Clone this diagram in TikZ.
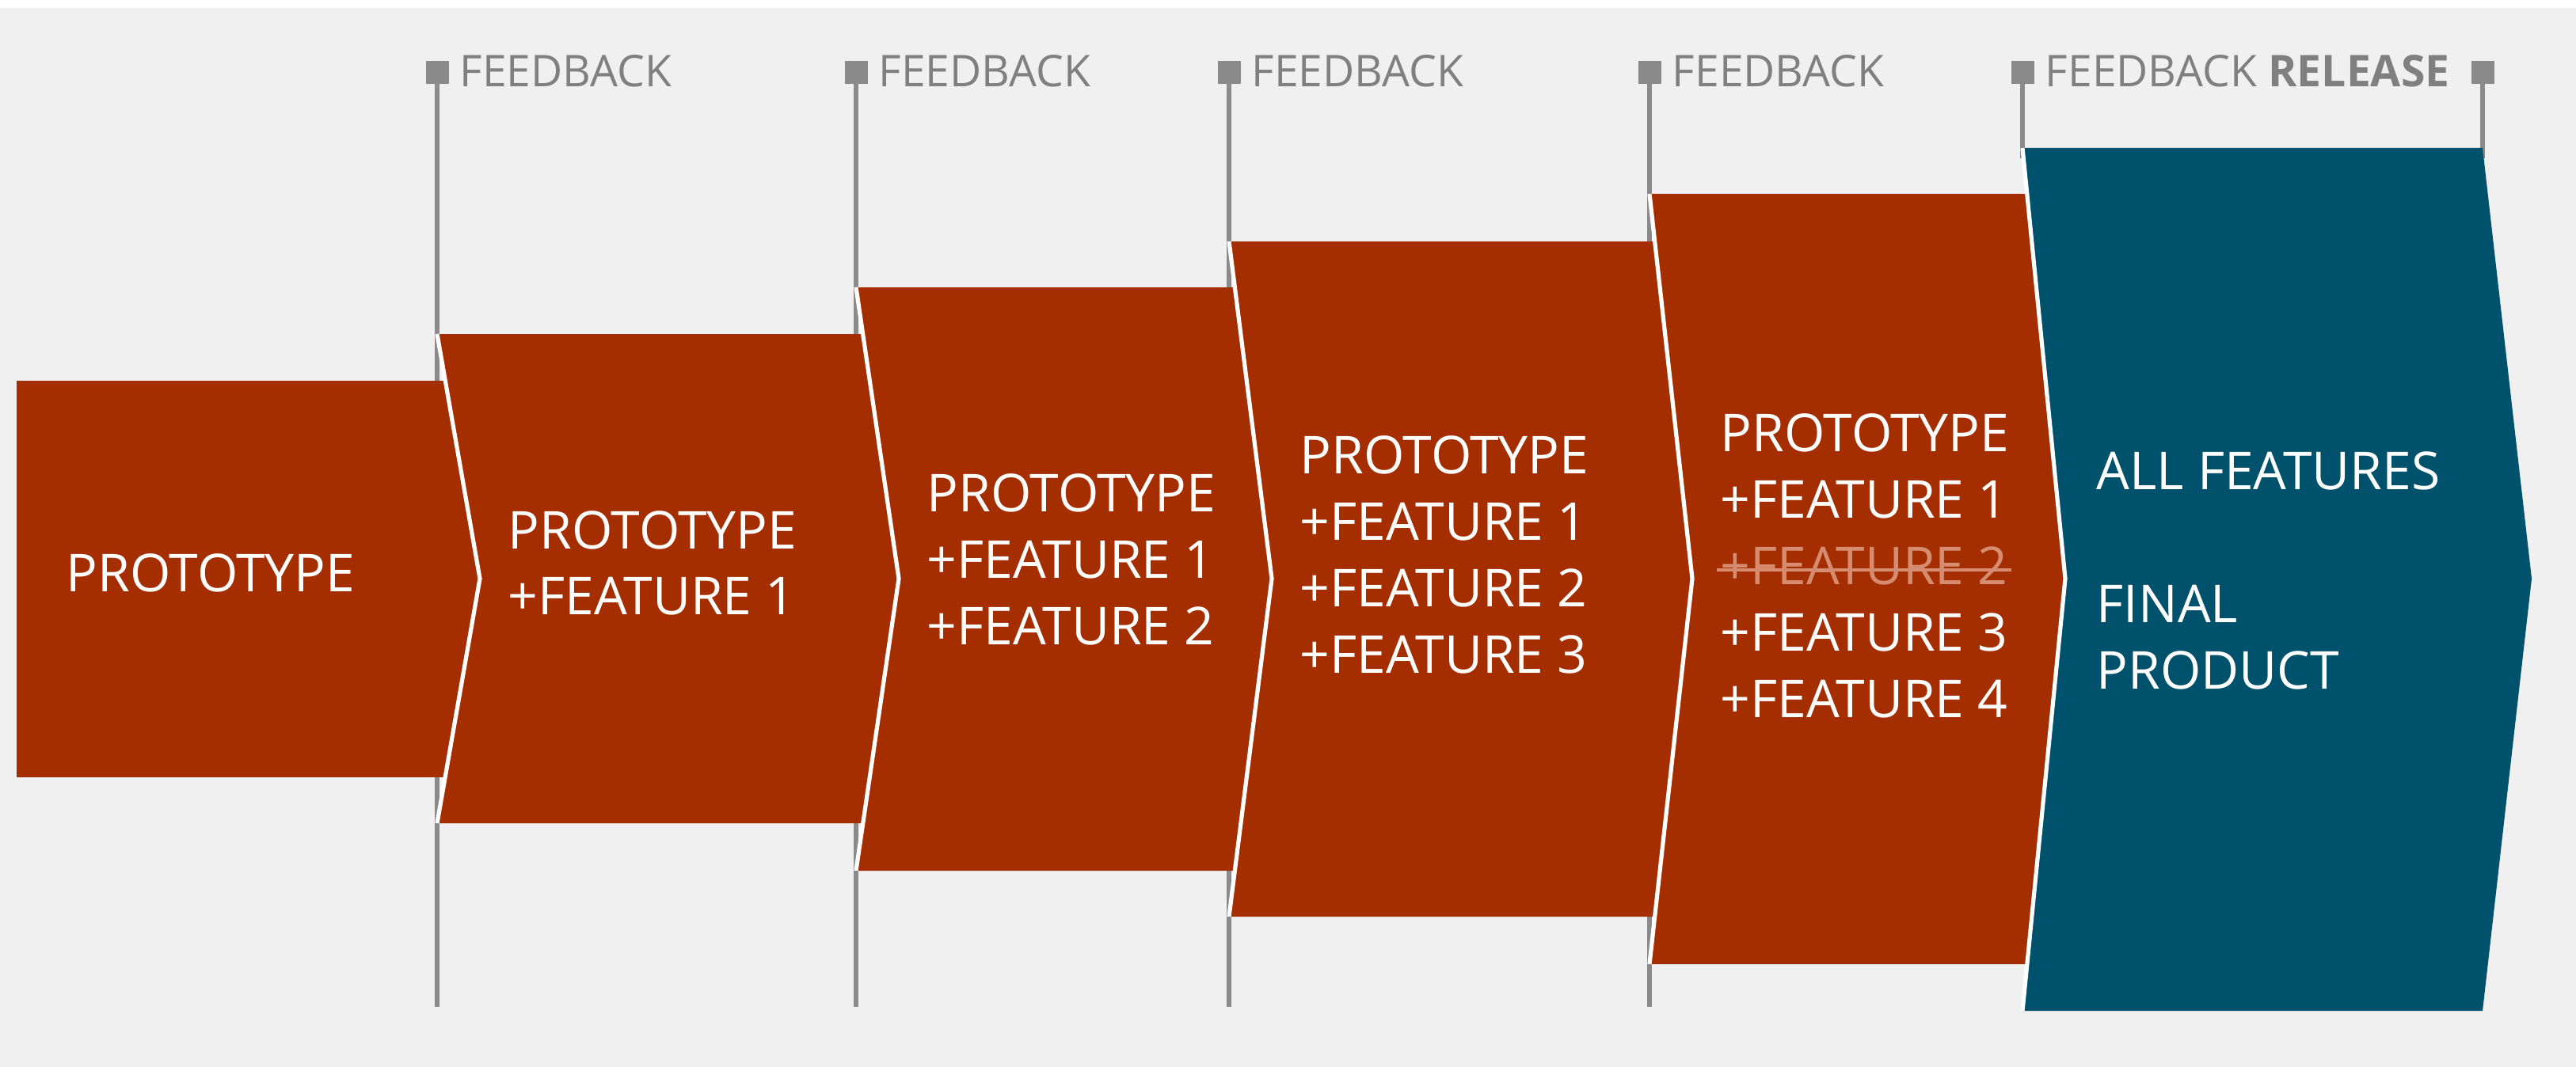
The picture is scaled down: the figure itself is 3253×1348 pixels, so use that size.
\documentclass[tikz,border=0pt]{standalone}
\usepackage{fontspec}
\setmainfont{Open Sans}
\definecolor{bg}{RGB}{240,240,240}
\definecolor{rust}{RGB}{165,46,0}
\definecolor{petrol}{RGB}{0,81,107}
\definecolor{lgray}{RGB}{138,138,138}
\definecolor{tgray}{RGB}{128,128,128}
\definecolor{strike}{RGB}{214,140,112}
\tikzset{
  fbsq/.style={rectangle, fill=lgray, minimum size=7.25pt, inner sep=0pt},
  fblab/.style={anchor=base west, inner sep=0pt, text=tgray, font=\fontsize{13.8pt}{16pt}\selectfont},
  fbline/.style={draw=lgray, line width=1.5pt},
  txt/.style={anchor=base west, inner sep=0pt, text=white, font=\fontsize{16.5pt}{20pt}\selectfont},
  notch/.style={draw=white, line width=1.3pt, line join=miter},
  strikeline/.style={draw=strike, line width=1.2pt},
}
\begin{document}
\begin{tikzpicture}[x=0.25pt,y=-0.25pt]
\useasboundingbox (0,0) rectangle (3253,1348);
\fill[bg] (0,0) rectangle (3253,1348);
\fill[white] (0,0) rectangle (3253,10);

% feedback markers and labels
\node[fbsq] (sq1) at (552,92) {};
\node[fbsq] (sq2) at (1081,92) {};
\node[fbsq] (sq3) at (1552,92) {};
\node[fbsq] (sq4) at (2083,92) {};
\node[fbsq] (sq5) at (2554,92) {};
\node[fbsq] (sq6) at (3135,92) {};
\node[fblab] (fb1) at (580,110) {FEEDBACK};
\node[fblab] (fb2) at (1109,110) {FEEDBACK};
\node[fblab] (fb3) at (1580,110) {FEEDBACK};
\node[fblab] (fb4) at (2111,110) {FEEDBACK};
\node[fblab] (fb5) at (2582,110) {FEEDBACK \textbf{RELEASE}};

\coordinate (e1) at (552,1272);
\coordinate (e2) at (1081,1272);
\coordinate (e3) at (1552,1272);
\coordinate (e4) at (2083,1272);
\coordinate (e5) at (2554,200);
\coordinate (e6) at (3135,200);
\foreach \i in {1,...,6} \draw[fbline] (sq\i.center) -- (e\i);

% boxes
\fill[rust] (21,481) -- (606,481) -- (606,982) -- (21,982) -- cycle;
\fill[rust] (552,422) -- (1135,422) -- (1135,1040) -- (552,1040) -- (606,731) -- cycle;
\fill[rust] (1081,363) -- (1606,363) -- (1606,1100) -- (1081,1100) -- (1135,731) -- cycle;
\fill[rust] (1552,305) -- (2137,305) -- (2137,1158) -- (1552,1158) -- (1606,731) -- cycle;
\fill[rust] (2083,245) -- (2608,245) -- (2608,1218) -- (2083,1218) -- (2137,731) -- cycle;
\fill[petrol] (2554,187) -- (3135,187) -- (3197,731) -- (3135,1277) -- (2554,1277) -- (2608,731) -- cycle;

\draw[notch] (552,422) -- (606,731) -- (552,1040);
\draw[notch] (1081,363) -- (1135,731) -- (1081,1100);
\draw[notch] (1552,305) -- (1606,731) -- (1552,1158);
\draw[notch] (2083,245) -- (2137,731) -- (2083,1218);
\draw[notch] (2554,187) -- (2608,731) -- (2554,1277);

% texts
\node[txt] (a1) at (83,747) {PROTOTYPE};

\node[txt] (b1) at (641,693) {PROTOTYPE};
\node[txt] (b2) at (641,776) {+FEATURE 1};

\node[txt] (c1) at (1170,646) {PROTOTYPE};
\node[txt] (c2) at (1170,730) {+FEATURE 1};
\node[txt] (c3) at (1170,814) {+FEATURE 2};

\node[txt] (d1) at (1641,598) {PROTOTYPE};
\node[txt] (d2) at (1641,682) {+FEATURE 1};
\node[txt] (d3) at (1641,766) {+FEATURE 2};
\node[txt] (d4) at (1641,850) {+FEATURE 3};

\node[txt] (f1) at (2172,570) {PROTOTYPE};
\node[txt] (f2) at (2172,654) {+FEATURE 1};
\node[txt, text=strike] (f3) at (2172,738) {+FEATURE 2};
\draw[strikeline] ([xshift=-1pt,yshift=4.5pt]f3.base west) -- ([xshift=1pt,yshift=4.5pt]f3.base east);
\node[txt] (f4) at (2172,822) {+FEATURE 3};
\node[txt] (f5) at (2172,906) {+FEATURE 4};

\node[txt] (g1) at (2647,618) {ALL FEATURES};
\node[txt] (g2) at (2647,786) {FINAL};
\node[txt] (g3) at (2647,870) {PRODUCT};
\end{tikzpicture}
\end{document}
